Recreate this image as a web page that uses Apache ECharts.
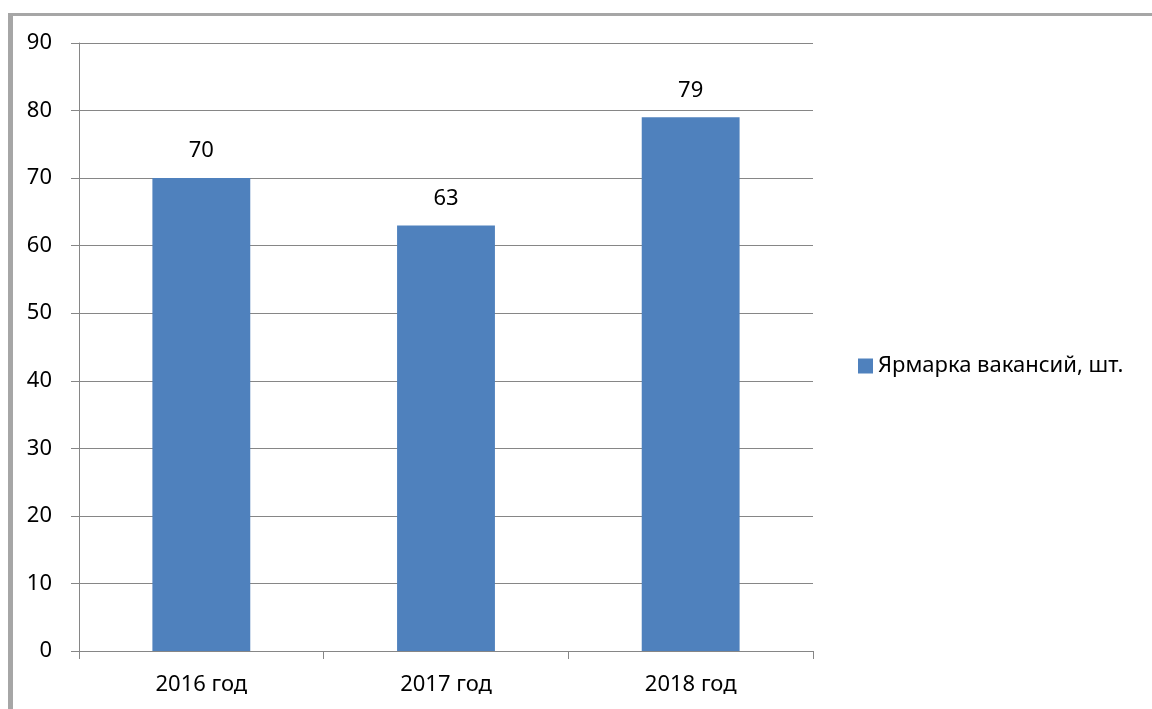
<!DOCTYPE html>
<html>
<head>
<meta charset="utf-8">
<script src="https://cdn.jsdelivr.net/npm/echarts@6/dist/echarts.min.js"></script>
<style>
html,body{margin:0;padding:0;background:#fff;overflow:hidden}
#frame{position:absolute;left:8px;top:13px;width:1300px;height:900px;border-left:5px solid #a6a6a6;border-top:3px solid #a6a6a6;box-sizing:border-box}
#chart{position:absolute;left:0;top:0;width:1152px;height:709px}
</style>
</head>
<body>
<div id="frame"></div>
<div id="chart"></div>
<script>
var years=['2016 год','2017 год','2018 год']
var vacancies=[70,63,79]
var seriesName='Ярмарка вакансий, шт.'

var mychart=echarts.init(document.getElementById('chart'))
var font='"Noto Sans", sans-serif'
var option={
	animation:false,
	grid:{left:79,right:339,top:43,bottom:58},
	legend:{
		left:853,
		top:350,
		orient:'vertical',
		itemWidth:15,
		itemHeight:15,
		itemGap:6,
		icon:'rect',
		textStyle:{fontSize:22,fontFamily:font,color:'#000'},
		data:[seriesName]
	},
	xAxis:{
		type:'category',
		data:years,
		axisLine:{lineStyle:{color:'#868686',width:1}},
		axisTick:{show:true,length:8,lineStyle:{color:'#868686'}},
		axisLabel:{fontSize:22,fontFamily:font,color:'#000',margin:23}
	},
	yAxis:{
		type:'value',
		min:0,
		max:90,
		interval:10,
		axisLine:{show:true,lineStyle:{color:'#868686',width:1}},
		axisTick:{show:true,length:8,lineStyle:{color:'#868686'}},
		axisLabel:{fontSize:22,fontFamily:font,color:'#000',margin:27},
		splitLine:{lineStyle:{color:'#868686',width:1}}
	},
	series:[{
		name:seriesName,
		type:'bar',
		data:vacancies,
		barCategoryGap:'60%',
		itemStyle:{color:'#4f81bd'},
		label:{show:true,position:'top',distance:16,fontSize:22,fontFamily:font,color:'#000'}
	}]
}
mychart.setOption(option)
</script>
</body>
</html>
